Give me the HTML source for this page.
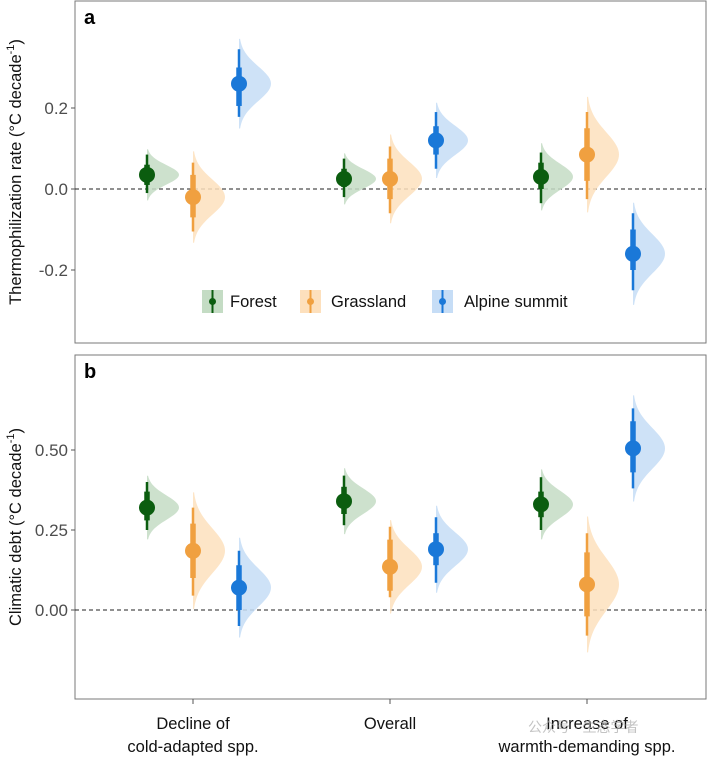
<!DOCTYPE html>
<html><head><meta charset="utf-8"><style>
body{margin:0;background:#fff;}
svg text{font-family:"Liberation Sans","Noto Sans CJK SC",sans-serif;}
</style></head><body>
<svg id="c" width="707" height="756"></svg>
<script>
const categories=["Decline of|cold-adapted spp.","Overall","Increase of|warmth-demanding spp."];
const groups=["Forest","Grassland","Alpine summit"];
const aMean=[[0.035,-0.02,0.26],[0.025,0.025,0.12],[0.03,0.085,-0.16]];
const aLo95=[[-0.01,-0.105,0.178],[-0.02,-0.06,0.05],[-0.035,-0.025,-0.25]];
const aHi95=[[0.085,0.065,0.345],[0.075,0.105,0.19],[0.09,0.19,-0.06]];
const aLo66=[[0.01,-0.07,0.205],[0.005,-0.025,0.085],[0,0.02,-0.2]];
const aHi66=[[0.06,0.035,0.3],[0.05,0.075,0.155],[0.065,0.15,-0.1]];
const bMean=[[0.32,0.185,0.07],[0.34,0.135,0.19],[0.33,0.08,0.505]];
const bLo95=[[0.25,0.045,-0.05],[0.265,0.04,0.085],[0.25,-0.08,0.38]];
const bHi95=[[0.4,0.32,0.185],[0.42,0.26,0.29],[0.415,0.24,0.63]];
const bLo66=[[0.28,0.1,0],[0.3,0.06,0.14],[0.29,-0.02,0.43]];
const bHi66=[[0.37,0.27,0.14],[0.385,0.22,0.24],[0.37,0.18,0.59]];
const aTicks=[0.2,0.0,-0.2], aTickLab=["0.2","0.0","-0.2"];
const bTicks=[0.5,0.25,0], bTickLab=["0.50","0.25","0.00"];

const svg=document.getElementById('c');
const NS="http://www.w3.org/2000/svg";
function el(t,a,p){const e=document.createElementNS(NS,t);for(const k in a)e.setAttribute(k,a[k]);(p||svg).appendChild(e);return e;}
const lineC=["#0b5d0f","#f0a040","#1a78d8"];
const fillC=["#c4dcc4","#fde0bd","#c6ddf6"];
const X0=75,X1=706;
function xCat(i){return 193+i*197;}
const offs=[-46,0,46];

function panel(name,top,bot,y,ticks,tl,mean,lo95,hi95,lo66,hi66,letter,title){
  const g=el('g',{});
  
  
  const fr=el('rect',{x:X0,y:top,width:X1-X0,height:bot-top,fill:'none',stroke:'#7a7a7a','stroke-width':1},g);
  
  ticks.forEach((v,i)=>{
    el('line',{x1:X0-4,x2:X0,y1:y(v),y2:y(v),stroke:'#555'},g);
    const t=el('text',{x:X0-7,y:y(v)+6,'text-anchor':'end','font-size':17,fill:'#4d4d4d'},g);t.textContent=tl[i];
    
  });
  const z=el('line',{x1:X0,x2:X1,y1:y(0),y2:y(0),stroke:'#222','stroke-dasharray':'4,3','stroke-width':1},g);
  
  const lt=el('text',{x:84,y:top+23,'font-size':20,'font-weight':'bold',fill:'#000'},g);lt.textContent=letter;
  
  const yt=el('text',{transform:`translate(21,${(top+bot)/2}) rotate(-90)`,'text-anchor':'middle','font-size':16.5,fill:'#111'},g);
  yt.innerHTML=title;
  
  categories.forEach((c,ci)=>{
    groups.forEach((gr,gi)=>{
      const cx=xCat(ci)+offs[gi];
      const m=mean[ci][gi], sd=(hi95[ci][gi]-lo95[ci][gi])/3.92;
      const scale=y(0)-y(1);
      const sdp=sd*scale, W=32, R=2.6;
      let d=`M${cx},${y(m)-R*sdp}`;
      for(let k=-R;k<=R+0.0001;k+=0.1){d+=` L${cx+W*Math.exp(-k*k/2)},${y(m)+k*sdp}`;}
      d+=` L${cx},${y(m)+R*sdp} Z`;
      const v=el('path',{d:d,fill:fillC[gi],opacity:0.85},g);
      
      const l1=el('line',{x1:cx,x2:cx,y1:y(lo95[ci][gi]),y2:y(hi95[ci][gi]),stroke:lineC[gi],'stroke-width':2.5},g);
      
      const l2=el('line',{x1:cx,x2:cx,y1:y(lo66[ci][gi]),y2:y(hi66[ci][gi]),stroke:lineC[gi],'stroke-width':5.5},g);
      
      const p=el('circle',{cx:cx,cy:y(m),r:8,fill:lineC[gi]},g);
      
    });
  });
}
const yA=v=>189-v*405;
const yB=v=>610-v*320;
panel('panel-a',1,343,yA,aTicks,aTickLab,aMean,aLo95,aHi95,aLo66,aHi66,'a','Thermophilization rate (°C decade<tspan dy="-7" font-size="11">-1</tspan><tspan dy="7">)</tspan>');
panel('panel-b',355,699,yB,bTicks,bTickLab,bMean,bLo95,bHi95,bLo66,bHi66,'b','Climatic debt (°C decade<tspan dy="-7" font-size="11">-1</tspan><tspan dy="7">)</tspan>');

categories.forEach((c,i)=>{
  el('line',{x1:xCat(i),x2:xCat(i),y1:699,y2:704,stroke:'#555'});
  const parts=c.split('|');
  parts.forEach((p,j)=>{
    const t=el('text',{x:xCat(i),y:729+j*23,'text-anchor':'middle','font-size':16.5,fill:'#111'});t.textContent=p;
    
    
  });
});
const lx=[202,300,432], tx=[230,331,464];
groups.forEach((gr,i)=>{
  const g=el('g',{});
  
  
  el('rect',{x:lx[i],y:290,width:21,height:23,fill:fillC[i]},g);
  el('line',{x1:lx[i]+10.5,x2:lx[i]+10.5,y1:290,y2:313,stroke:lineC[i],'stroke-width':2},g);
  el('circle',{cx:lx[i]+10.5,cy:301.5,r:3.5,fill:lineC[i]},g);
  const t=el('text',{x:tx[i],y:307,'font-size':16.5,fill:'#111'},g);t.textContent=gr;
});
const w=el('text',{x:528,y:732,'font-size':14,fill:'#aaa',opacity:0.7});w.textContent='公众号 · 生态学者';


</script>
</body></html>
